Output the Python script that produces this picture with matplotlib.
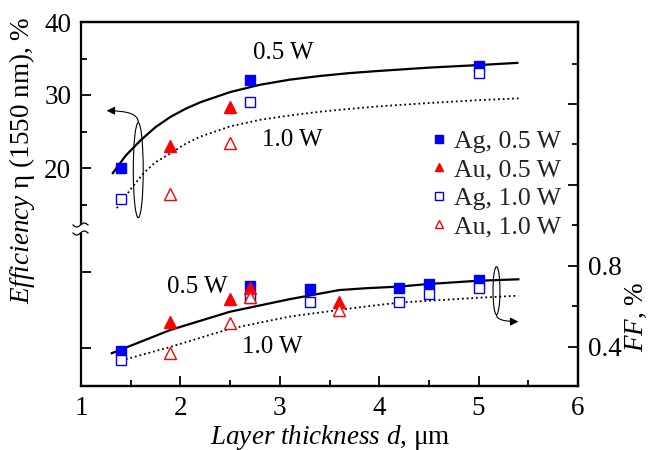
import numpy as np
import matplotlib
matplotlib.use('Agg')
import matplotlib.pyplot as plt
from matplotlib.patches import Ellipse

plt.rcParams['font.family'] = ['Liberation Serif', 'DejaVu Serif']
plt.rcParams['mathtext.fontset'] = 'custom'
plt.rcParams['mathtext.rm'] = 'Liberation Serif'
plt.rcParams['mathtext.it'] = 'Liberation Serif:italic'
plt.rcParams['font.size'] = 19.5

# efficiency (%), left axis
eff_ag05_d = [1.4, 2.7, 5.0]
eff_ag05 = [20.0, 32.0, 34.0]
eff_ag10_d = [1.4, 2.7, 5.0]
eff_ag10 = [15.7, 29.1, 33.0]
eff_au05_d = [1.9, 2.5]
eff_au05 = [23.0, 28.3]
eff_au10_d = [1.9, 2.5]
eff_au10 = [16.5, 23.4]

# fitted curves
fit05_d = [1.32, 1.45, 1.6, 1.75, 1.9, 2.05, 2.2, 2.5, 2.8, 3.1, 3.4, 3.7, 4.0, 4.5, 5.0, 5.39]
fit05_eff = [19.3, 21.7, 23.8, 25.6, 27.0, 28.1, 29.0, 30.4, 31.4, 32.1, 32.6, 33.0, 33.3, 33.75, 34.1, 34.4]
fit10_d = [1.36, 1.5, 1.63, 1.75, 1.9, 2.05, 2.2, 2.5, 2.8, 3.1, 3.4, 3.7, 4.0, 4.5, 5.0, 5.42]
fit10_eff = [14.5, 17.1, 19.3, 20.8, 22.0, 23.3, 24.3, 25.7, 26.6, 27.2, 27.7, 28.1, 28.45, 28.9, 29.3, 29.55]

# fill factor, right axis
ff_ag05_d = [1.4, 2.7, 3.3, 4.2, 4.5, 5.0]
ff_ag05 = [0.38, 0.70, 0.686, 0.69, 0.71, 0.73]
ff_ag10_d = [1.4, 2.7, 3.3, 4.2, 4.5, 5.0]
ff_ag10 = [0.336, 0.643, 0.62, 0.624, 0.66, 0.69]
ff_au05_d = [1.9, 2.5, 2.7, 3.6]
ff_au05 = [0.525, 0.637, 0.69, 0.624]
ff_au10_d = [1.9, 2.5, 2.7, 3.6]
ff_au10 = [0.37, 0.517, 0.645, 0.583]

fitff05_d = [1.31, 1.9, 2.5, 3.1, 3.6, 3.87, 4.2, 4.5, 5.0, 5.4]
fitff05 = [0.369, 0.484, 0.574, 0.636, 0.681, 0.69, 0.698, 0.711, 0.727, 0.734]
fitff10_d = [1.36, 1.9, 2.5, 3.1, 3.6, 3.87, 4.2, 5.0, 5.4]
fitff10 = [0.327, 0.40, 0.49, 0.55, 0.583, 0.60, 0.619, 0.643, 0.653]

blue = '#0000ff'
red = '#ff0000'

fig = plt.figure(figsize=(6.48, 4.5), dpi=100)
ax = fig.add_axes([81/648, 1-386/450, 497/648, 364/450])
ax2 = ax.twinx()

ax.plot(fit05_d, fit05_eff, color='black', lw=1.6)
ax.plot(fit10_d, fit10_eff, color='black', lw=1.3, ls=(0, (1.0, 1.6)))
ax.plot(eff_ag05_d, eff_ag05, 's', color=blue, ms=7.5, label='Ag, 0.5 W')
ax.plot(eff_au05_d, eff_au05, '^', color=red, ms=8.5, label='Au, 0.5 W')
ax.plot(eff_ag10_d, eff_ag10, 's', mfc='white', mec=blue, mew=1.0, ms=7, label='Ag, 1.0 W')
ax.plot(eff_au10_d, eff_au10, '^', mfc='white', mec=red, mew=1.0, ms=8.5, label='Au, 1.0 W')

ax2.plot(fitff05_d, fitff05, color='black', lw=1.6)
ax2.plot(fitff10_d, fitff10, color='black', lw=1.3, ls=(0, (1.0, 1.6)))
ax2.plot(ff_ag05_d, ff_ag05, 's', color=blue, ms=7.5)
ax2.plot(ff_ag10_d, ff_ag10, 's', mfc='white', mec=blue, mew=1.0, ms=7)
ax2.plot(ff_au05_d, ff_au05, '^', color=red, ms=8.5)
ax2.plot(ff_au10_d, ff_au10, '^', mfc='white', mec=red, mew=1.0, ms=8.5)

ax.set_xlim(1, 6)
ax.set_ylim(40 - 364/7.3, 40)
ax2.set_ylim(0.207, 2.005)

ax.set_xticks([1, 2, 3, 4, 5, 6])
ax.set_xticks([1.5, 2.5, 3.5, 4.5, 5.5], minor=True)
ax.set_yticks([-4.66, 5.75, 20, 30, 40], ['', '', '20', '30', '40'])
ax.set_yticks([15, 25, 35], minor=True)
ax2.set_yticks([0.4, 0.8, 1.2, 1.6], ['0.4', '0.8', '', ''])
ax2.set_yticks([0.6, 1.0, 1.4, 1.8], minor=True)

ax.tick_params(which='major', direction='in', length=7, width=1.3, top=False, right=False, pad=7)
ax.tick_params(which='minor', direction='in', length=4, width=1.3, top=False, right=False)
ax2.tick_params(which='major', direction='in', length=7, width=1.3, pad=7)
ax2.tick_params(which='minor', direction='in', length=4, width=1.3)
for a in (ax, ax2):
    for s in a.spines.values():
        s.set_linewidth(1.6)
ax.spines['left'].set_visible(False)
ax2.spines['left'].set_visible(False)

# broken left spine
g_hi = (386 - 225) / 364
g_lo = (386 - 233) / 364
ax.plot([0, 0], [0, g_lo], color='black', lw=1.6, transform=ax.transAxes, clip_on=False, solid_capstyle='butt')
ax.plot([0, 0], [g_hi, 1], color='black', lw=1.6, transform=ax.transAxes, clip_on=False, solid_capstyle='butt')
t = np.linspace(-1, 1, 30)
for gy in (g_lo, g_hi):
    ax.plot(t * 7.5 / 497 - 0.5 / 497, gy + np.sin(t * np.pi) * 2 / 364, color='black', lw=0.9,
            transform=ax.transAxes, clip_on=False)

# labels
fig.text(22/648, 1-160/450, r'$\mathit{Efficiency}$ η (1550 nm), %', rotation=90, ha='center', va='center')
fig.text(330/648, 1-437/450, r'$\mathit{Layer\ thickness\ d}$, μm', ha='center', va='center')
fig.text(636/648, 1-317/450, r'$\mathit{FF}$, %', rotation=90, ha='center', va='center')

ax.text(3.04, 35.75, '0.5 W', ha='center', va='center', fontsize=18)
ax.text(3.13, 23.8, '1.0 W', ha='center', va='center', fontsize=18)
ax2.text(2.17, 0.696, '0.5 W', ha='center', va='center', fontsize=18)
ax2.text(2.92, 0.40, '1.0 W', ha='center', va='center', fontsize=18)

# ellipses with arrows
ax.add_patch(Ellipse((1.576, 19.7), 0.1, 13, fill=False, lw=0.8, color='black'))
ax.annotate('', xy=(1.258, 27.85), xytext=(1.576, 26.3),
            arrowprops=dict(arrowstyle='-|>', lw=0.8, color='black', mutation_scale=12,
                            connectionstyle='angle3,angleA=90,angleB=0', shrinkA=0, shrinkB=0))
ax2.add_patch(Ellipse((5.18, 0.678), 0.07, 0.237, fill=False, lw=0.8, color='black'))
ax2.annotate('', xy=(5.40, 0.525), xytext=(5.18, 0.559),
             arrowprops=dict(arrowstyle='-|>', lw=0.8, color='black', mutation_scale=12,
                             connectionstyle='angle3,angleA=90,angleB=0', shrinkA=0, shrinkB=0))

leg = ax.legend(loc='center left', bbox_to_anchor=(431/648, 1-184/450), bbox_transform=fig.transFigure,
                frameon=False, handlelength=0.6, handletextpad=0.3, labelspacing=0.22, borderpad=0,
                borderaxespad=0, markerscale=0.75, fontsize=18.5)
for txt in leg.get_texts():
    txt.set_color('#222222')

fig.savefig('out.png', dpi=100)
